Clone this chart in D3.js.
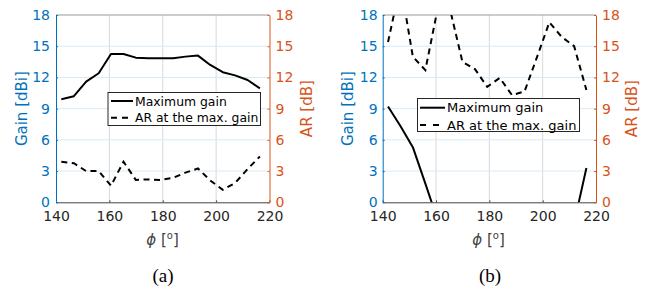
<!DOCTYPE html>
<html><head><meta charset="utf-8">
<script src="https://cdn.jsdelivr.net/npm/d3@7"></script>
<style>body{margin:0;background:#fff} svg{display:block}</style>
</head><body><svg id="c" width="649" height="291"></svg>
<script>
// ---- data ----
const phi   = [142.0,146.7,151.3,156.0,160.6,165.3,169.9,174.6,179.2,183.9,188.5,193.2,197.8,202.5,207.1,211.8,216.4];
const gainA = [9.9,10.2,11.6,12.4,14.25,14.25,13.9,13.85,13.85,13.85,14.0,14.1,13.2,12.5,12.2,11.75,10.95];
const arA   = [3.9,3.75,3.0,3.0,1.6,3.9,2.15,2.2,2.15,2.35,2.85,3.25,2.1,1.2,1.85,3.2,4.4];
const gainB = [9.2,7.3,5.3,1.8,-1.7,-4.0,-6.0,-7.0,-8.0,-8.0,-7.5,-7.0,-6.0,-5.0,-3.5,-2.0,3.3];
const arB   = [15.4,21.0,14.0,12.7,18.6,18.5,13.5,12.8,11.1,11.95,10.3,10.65,13.9,17.3,15.9,15.0,10.8];
const xTicks = [140,160,180,200,220];
const yTicks = [0,3,6,9,12,15,18];
const legendLabels = ["Maximum gain","AR at the max. gain"];
const panelLabels = ["(a)","(b)"];
const yLabelLeft = "Gain [dBi]", yLabelRight = "AR [dB]";

const svg = d3.select("#c");
const BLUE = "#0072BD", ORANGE = "#D95319", DARK = "#262626";
const FONT = "'DejaVu Sans', sans-serif";
let clipN = 0;

function panel(cfg, gain, ar, label) {
  const {left, right, top, bottom} = cfg;
  const x = d3.scaleLinear().domain([140,220]).range([left,right]);
  const yL = d3.scaleLinear().domain([0,18]).range([bottom,top]);
  const yR = d3.scaleLinear().domain([0,18]).range([bottom,top]);
  const g = svg.append("g");

  // grid
  g.append("g").selectAll("line").data(xTicks.slice(1,-1)).join("line")
    .attr("x1",d=>x(d)).attr("x2",d=>x(d)).attr("y1",top).attr("y2",bottom)
    .attr("stroke","#d9d9d9").attr("stroke-width",1);
  g.append("g").selectAll("line").data(yTicks.slice(1,-1)).join("line")
    .attr("x1",left).attr("x2",right).attr("y1",d=>yL(d)).attr("y2",d=>yL(d))
    .attr("stroke","#d9eaf6").attr("stroke-width",1);

  // top border
  g.append("line").attr("x1",left).attr("x2",right).attr("y1",top).attr("y2",top)
    .attr("stroke","#999").attr("stroke-width",1);

  // data
  const id = "clip" + (clipN++);
  g.append("clipPath").attr("id",id).append("rect")
    .attr("x",left).attr("y",top).attr("width",right-left).attr("height",bottom-top);
  const mk = ys => d3.line().x((d,i)=>x(phi[i])).y(d=>ys(d));
  g.append("path").attr("clip-path",`url(#${id})`).attr("d",mk(yL)(gain))
    .attr("fill","none").attr("stroke","#000").attr("stroke-width",2).attr("stroke-linejoin","round");
  g.append("path").attr("clip-path",`url(#${id})`).attr("d",mk(yR)(ar))
    .attr("fill","none").attr("stroke","#000").attr("stroke-width",2).attr("stroke-dasharray","6,4.5");

  // axes
  const ax = g.append("g").attr("transform",`translate(0,${bottom})`)
    .call(d3.axisBottom(x).tickValues(xTicks).tickFormat(d3.format("d")).tickSizeInner(-2).tickSizeOuter(0).tickPadding(8.5));
  ax.select(".domain").attr("stroke","#444");
  ax.selectAll(".tick line").attr("stroke","#444");
  ax.selectAll("text").attr("fill",DARK).style("font",`14px ${FONT}`);

  const al = g.append("g").attr("transform",`translate(${left},0)`)
    .call(d3.axisLeft(yL).tickValues(yTicks).tickSizeInner(-2).tickSizeOuter(0).tickPadding(cfg.padL));
  al.select(".domain").attr("stroke",BLUE);
  al.selectAll(".tick line").attr("stroke",BLUE);
  al.selectAll("text").attr("fill",BLUE).style("font",`14px ${FONT}`);

  const ar_ = g.append("g").attr("transform",`translate(${right},0)`)
    .call(d3.axisRight(yR).tickValues(yTicks).tickSizeInner(-2).tickSizeOuter(0).tickPadding(6));
  ar_.select(".domain").attr("stroke",ORANGE);
  ar_.selectAll(".tick line").attr("stroke",ORANGE);
  ar_.selectAll("text").attr("fill",ORANGE).style("font",`14px ${FONT}`);

  const midY = (top+bottom)/2;
  g.append("text").attr("transform",`translate(${cfg.gainLabelX},${midY}) rotate(-90)`)
    .attr("text-anchor","middle").attr("dominant-baseline","central")
    .attr("fill",BLUE).style("font",`15px ${FONT}`).text(yLabelLeft);
  g.append("text").attr("transform",`translate(${cfg.arLabelX},${midY}) rotate(-90)`)
    .attr("text-anchor","middle").attr("dominant-baseline","central")
    .attr("fill",ORANGE).style("font",`15px ${FONT}`).text(yLabelRight);

  // x label
  const xl = g.append("text").attr("x",cfg.xLabelX).attr("y",245).attr("text-anchor","middle")
    .attr("fill","#444").style("font",`15px ${FONT}`);
  xl.append("tspan").style("font-style","italic").text("\u03D5");
  xl.append("tspan").text(" [");
  xl.append("tspan").attr("dy",-6).style("font-size","10px").text("o");
  xl.append("tspan").attr("dy",6).text("]");

  // panel label
  g.append("text").attr("x",cfg.panelX).attr("y",282).attr("text-anchor","middle")
    .attr("fill","#000").style("font","19px 'Liberation Serif', serif").text(label);

  // legend
  const L = cfg.leg;
  const lg = g.append("g");
  lg.append("rect").attr("x",L.x).attr("y",L.y).attr("width",L.w).attr("height",L.h)
    .attr("fill","#fff").attr("stroke",DARK).attr("stroke-width",1);
  const rows = [{dash:null, y:L.ty1, x2:L.sx2},{dash:L.dash, y:L.ty2, x2:L.dx2}];
  rows.forEach((r,i)=>{
    lg.append("line").attr("x1",L.sx1).attr("x2",r.x2).attr("y1",r.y).attr("y2",r.y)
      .attr("stroke","#000").attr("stroke-width",2).attr("stroke-dasharray",r.dash);
    lg.append("text").attr("x",L.tx).attr("y",r.y).attr("dominant-baseline","central")
      .attr("fill","#000").style("font",`${L.fs}px ${FONT}`).text(legendLabels[i]);
  });
}

panel({left:56, right:269.5, top:15, bottom:202.3, padL:6, gainLabelX:21.7, arLabelX:306.7,
       xLabelX:162.5, panelX:163,
       leg:{x:108, y:92.5, w:152.5, h:33, fs:12.4, sx1:111, sx2:133, dx2:128, dash:"6,5", tx:135, ty1:101, ty2:117.7}},
      gainA, arA, panelLabels[0]);
panel({left:382.7, right:596, top:15, bottom:202.3, padL:5, gainLabelX:348.3, arLabelX:631.7,
       xLabelX:488.5, panelX:490,
       leg:{x:417.5, y:98.5, w:162, h:33, fs:13, sx1:420, sx2:445, dx2:440, dash:"6,7", tx:447, ty1:107.7, ty2:125}},
      gainB, arB, panelLabels[1]);
</script>
</body></html>
